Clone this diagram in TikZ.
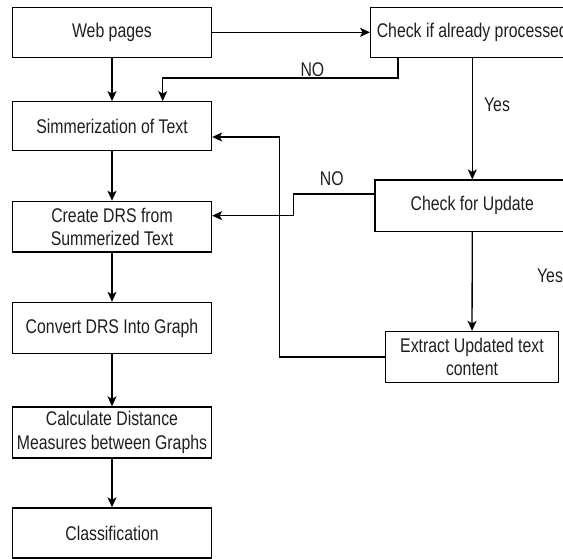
\documentclass[tikz,border=0pt]{standalone}
\usepackage{fontspec}
\setmainfont[FakeStretch=0.8]{Liberation Sans}
\usetikzlibrary{arrows.meta}
\begin{document}
\begin{tikzpicture}[x=1pt,y=-1pt,
  box/.style={draw, line width=1.3pt, fill=white, minimum width=199pt, align=center, inner sep=0pt, text=black!88, font=\fontsize{19.8}{23.3}\selectfont},
  conn/.style={line width=1.3pt, -{Stealth[length=10pt,width=9pt,inset=2.5pt]}},
  lbl/.style={font=\fontsize{19.8}{23.3}\selectfont, inner sep=0pt, text=black!88}]
\useasboundingbox (0,0) rectangle (563,559);
\clip (0,0) rectangle (563,559);
% left column
\node[box, minimum height=50pt] (web) at (112,32.3) {Web pages};
\node[box, minimum height=48.5pt] (simm) at (112,126) {Simmerization of Text};
\node[box, minimum height=50.5pt] (drs) at (112,226.7) {Create DRS from\\Summerized Text};
\node[box, minimum height=51pt] (conv) at (112,328) {Convert DRS Into Graph};
\node[box, minimum height=51pt] (calc) at (112,432.5) {Calculate Distance\\Measures between Graphs};
\node[box, minimum height=50pt] (cls) at (112,533) {Classification};
% right column
\node[box, minimum height=50pt, minimum width=203.3pt] (chk) at (472.3,32.3) {Check if already processed};
\node[box, minimum height=51.5pt, minimum width=194.6pt] (upd) at (472.3,205.8) {Check for Update};
\node[box, minimum height=51pt, minimum width=173pt] (ext) at (472,357) {Extract Updated text\\content};
% connectors
\draw[conn] (web.east) -- (chk.west);
\draw[conn] (web) -- (simm);
\draw[conn] ([xshift=-74.3pt]chk.south) -- ++(0,20) -| ([xshift=50.7pt]simm.north);
\draw[conn] (chk) -- (upd);
\draw[conn] (simm) -- (drs);
\draw[conn] ([yshift=11.8pt]upd.west) -- ++(-80.6,0) |- ([yshift=11pt]drs.east);
\draw[conn] (upd) -- (ext);
\draw[conn] (ext.west) -- ++(-105.5,0) |- ([yshift=-11pt]simm.east);
\draw[conn] (drs) -- (conv);
\draw[conn] (conv) -- (calc);
\draw[conn] (calc) -- (cls);
% labels
\node[lbl] (no1) at (312.4,70) {NO};
\node[lbl] (yes1) at (497,104.5) {Yes};
\node[lbl] (no2) at (331.7,178.3) {NO};
\node[lbl] (yes2) at (550,275.5) {Yes};
\end{tikzpicture}
\end{document}
